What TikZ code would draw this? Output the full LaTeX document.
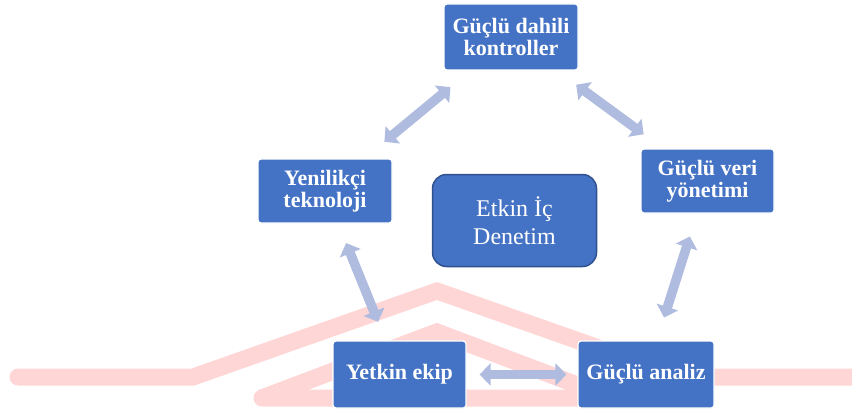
\documentclass[tikz,border=0pt]{standalone}
\usepackage{fontspec}
\setmainfont{Liberation Serif}
\usepackage{tikz}
\usetikzlibrary{arrows.meta, positioning}
\definecolor{boxblue}{RGB}{68, 114, 196}
\definecolor{rimblue}{RGB}{47, 82, 143}
\definecolor{arrowblue}{RGB}{175, 188, 224}
\definecolor{roofpink}{RGB}{255, 214, 214}

\begin{document}
\begin{tikzpicture}[
    x=1pt, y=-1pt,
    block/.style={draw=white, line width=1.2pt, fill=boxblue, rounded corners=3pt, minimum width=134pt, minimum height=66pt, inner sep=2pt, text=white, align=center, font=\fontsize{22}{21.5}\selectfont\bfseries},
    core/.style={draw=rimblue, line width=1.5pt, fill=boxblue, rounded corners=14pt, minimum width=164pt, minimum height=92pt, text=white, align=center, font=\fontsize{24}{27.5}\selectfont},
    link/.style={draw=arrowblue, line width=9.5pt, {Triangle[width=22pt,length=11pt]}-{Triangle[width=22pt,length=11pt]}}
]
    \useasboundingbox (0,0) rectangle (852,412);

    % Roof lines (background)
    \draw[roofpink, line width=17pt, line cap=round, miter limit=10] (18,377) -- (193,377) -- (437,291) -- (681,377) -- (870,377);
    \draw[roofpink, line width=17pt, line cap=round, line join=round] (437,332) -- (262,398) -- (620,398);
    \draw[roofpink, line width=17pt, miter limit=10] (262,398) -- (437,332) -- (612,398);

    % Outer ring of blocks
    \node[block] (controls) at (511, 37) {Güçlü dahili\\kontroller};
    \node[block, minimum height=64pt] (technology) at (325, 191) {Yenilikçi\\teknoloji};
    \node[block, minimum height=64pt, minimum width=133pt] (data) at (707.5, 181) {Güçlü veri\\yönetimi};
    \node[block, minimum height=67pt, minimum width=133pt] (team) at (399.5, 374.5) {Yetkin ekip};
    \node[block, minimum height=67pt, minimum width=136pt] (analysis) at (646, 374.5) {Güçlü analiz};

    % Centre
    \node[core] (audit) at (514.5, 220.5) {Etkin İç\\Denetim};

    % Connections
    \draw[link, shorten <=26pt, shorten >=26pt] (controls) -- (technology);
    \draw[link, shorten <=24pt, shorten >=24pt] (controls) -- (data);
    \draw[link, shorten <=21pt, shorten >=20pt] (technology) -- (team);
    \draw[link, shorten <=24pt, shorten >=24pt] (data) -- (analysis);
    \draw[link, shorten <=13pt, shorten >=11pt] (team) -- (analysis);

\end{tikzpicture}
\end{document}
